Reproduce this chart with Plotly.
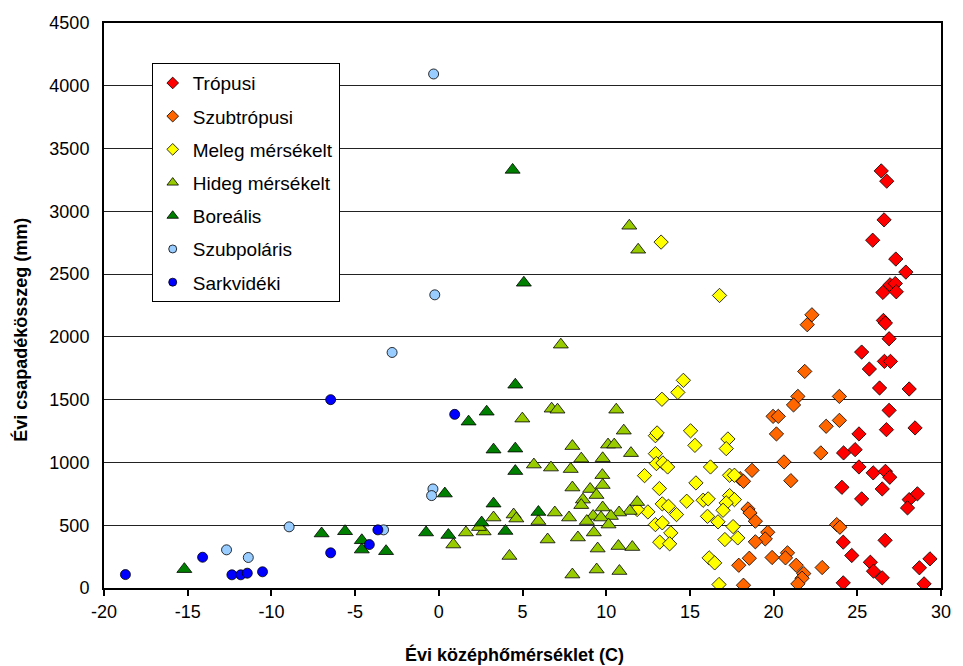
import plotly.graph_objects as go

# --- data: (annual mean temperature °C, annual precipitation mm) ---
tropusi_t = [26.43, 26.76, 26.6, 25.92, 27.3, 27.9, 26.96, 27.27, 26.53, 27.33, 26.56, 26.68, 26.9, 25.26,
             26.62, 26.98, 25.72, 26.33, 28.1, 26.9, 26.74, 28.45, 25.1, 24.18, 24.87, 25.1, 25.95, 26.68,
             26.94, 24.08, 26.49, 25.26, 28.1, 28.59, 28.0, 24.16, 26.66, 24.67, 25.78, 25.97, 26.49, 24.16,
             29.34, 28.71, 28.99]
tropusi_p = [3322, 3240, 2932, 2770, 2620, 2516, 2415, 2425, 2354, 2359, 2131, 2110, 1985, 1879,
             1805, 1805, 1744, 1593, 1585, 1415, 1261, 1275, 1227, 1076, 1102, 964, 917, 929,
             882, 802, 789, 710, 704, 750, 638, 365, 380, 259, 205, 134, 81, 41,
             232, 161, 33]

szubtr_t = [22.29, 22.01, 21.86, 21.45, 21.19, 23.93, 19.97, 20.28, 23.93, 23.14, 20.17, 22.82, 20.62,
            21.03, 18.71, 18.0, 18.2, 18.47, 18.59, 18.91, 23.77, 23.96, 19.65, 19.5, 18.91, 20.83,
            20.71, 21.35, 19.91, 18.55, 17.92, 21.8, 21.7, 21.45, 22.9, 18.2]
szubtr_p = [2176, 2097, 1725, 1526, 1458, 1526, 1367, 1367, 1335, 1288, 1227, 1076, 1004,
            855, 937, 871, 850, 630, 598, 532, 505, 484, 444, 391, 368, 280,
            240, 181, 243, 237, 181, 115, 78, 33, 163, 22]

meleg_t = [13.28, 16.77, 14.61, 14.28, 13.33, 15.04, 12.94, 13.04, 15.3, 17.27, 17.17, 12.94, 13.0,
           13.39, 13.67, 12.29, 16.23, 17.37, 17.66, 15.36, 13.18, 14.81, 15.79, 16.09, 17.37, 17.66,
           17.17, 16.98, 13.35, 13.72, 12.49, 11.85, 14.2, 16.05, 16.68, 17.58, 12.94, 13.35, 13.86,
           13.2, 13.79, 17.09, 17.86, 16.15, 16.48, 16.74]
meleg_p = [2755, 2330, 1654, 1558, 1503, 1252, 1213, 1235, 1136, 1187, 1110, 1070, 991,
           996, 964, 895, 964, 898, 898, 837, 792, 691, 699, 710, 736, 704,
           678, 619, 670, 651, 606, 625, 585, 571, 527, 489, 505, 519, 439,
           365, 352, 386, 399, 240, 200, 28]

hideg_t = [7.29, 11.38, 11.91, 4.99, 6.74, 7.09, 10.6, 11.05, 7.98, 10.11, 10.48, 8.51, 9.79, 11.48,
           5.68, 6.7, 7.88, 9.77, 9.79, 7.98, 9.04, 9.42, 8.61, 8.51, 9.79, 11.85, 11.41, 10.77, 10.28,
           9.22, 9.69, 5.95, 6.93, 4.47, 4.63, 3.27, 2.68, 2.4, 7.78, 8.84, 10.14, 0.87, 1.62, 6.5,
           8.31, 9.26, 4.22, 9.49, 10.73, 11.56, 7.98, 9.43, 10.79]
hideg_p = [1938, 2885, 2694, 1349, 1428, 1420, 1420, 1253, 1130, 1142, 1142, 1030, 1033, 1074,
           983, 959, 947, 899, 820, 800, 788, 740, 704, 660, 641, 684, 613, 601, 573,
           573, 561, 533, 601, 585, 553, 561, 450, 485, 561, 533, 505, 346, 442, 386,
           402, 442, 255, 314, 334, 326, 107, 147, 135]

boreal_t = [-15.2, -7.0, -5.6, -4.6, -4.6, -3.15, 4.41, 5.08, 4.57, 2.86, 1.78, 3.27, 4.57, 4.57,
            0.36, 3.27, 5.95, 2.56, 3.98, -0.76, 0.57]
boreal_p = [150, 434, 452, 380, 306, 293, 3330, 2431, 1619, 1404, 1325, 1102, 1110, 931,
            752, 672, 605, 521, 454, 442, 422]

szubpol_t = [-12.68, -11.38, -8.94, -2.79, -3.3, -0.31, -0.24, -0.35, -0.43]
szubpol_p = [304, 243, 487, 1876, 463, 4094, 2335, 789, 736]

sark_t = [-18.72, -14.11, -12.36, -11.83, -11.44, -10.53, -6.46, -6.46, -3.64, -4.15, 0.95]
sark_p = [107, 245, 105, 105, 118, 129, 1500, 280, 463, 346, 1383]

x_ticks = [-20, -15, -10, -5, 0, 5, 10, 15, 20, 25, 30]
y_ticks = [0, 500, 1000, 1500, 2000, 2500, 3000, 3500, 4000, 4500]

series = [
    ("Trópusi", tropusi_t, tropusi_p, "#FF0000", "diamond", 11, 9),
    ("Szubtrópusi", szubtr_t, szubtr_p, "#FF6600", "diamond", 11, 9),
    ("Meleg mérsékelt", meleg_t, meleg_p, "#FFFF00", "diamond", 11, 9),
    ("Hideg mérsékelt", hideg_t, hideg_p, "#99CC00", "triangle-up", 13, 10),
    ("Boreális", boreal_t, boreal_p, "#008000", "triangle-up", 13, 10),
    ("Szubpoláris", szubpol_t, szubpol_p, "#99CCFF", "circle", 10, 8),
    ("Sarkvidéki", sark_t, sark_p, "#0000FF", "circle", 10, 8),
]

fig = go.Figure()
for name, xs, ys, col, sym, sz, lsz in series:
    fig.add_trace(go.Scatter(
        x=xs, y=ys, mode="markers", name=name, legendgroup=name, showlegend=False,
        marker=dict(symbol=sym, size=sz, color=col, line=dict(color="#000000", width=0.8)),
    ))
    # legend-only entry with a smaller marker, like the original legend
    fig.add_trace(go.Scatter(
        x=[None], y=[None], mode="markers", name=name, legendgroup=name, showlegend=True,
        marker=dict(symbol=sym, size=lsz, color=col, line=dict(color="#000000", width=0.8)),
    ))

font_family = "Liberation Sans, Arial, sans-serif"
fig.update_layout(
    width=963, height=666,
    margin=dict(l=104, r=12, t=23, b=78),
    paper_bgcolor="white", plot_bgcolor="white",
    font=dict(family=font_family, size=18, color="black"),
    showlegend=True,
    legend=dict(
        x=0.057, y=0.929, xanchor="left", yanchor="top",
        bgcolor="white", bordercolor="black", borderwidth=1,
        font=dict(family=font_family, size=19, color="black"),
        traceorder="grouped", tracegroupgap=5.5,
        itemsizing="trace", itemwidth=30,
    ),
    xaxis=dict(
        range=[-20, 30], tickvals=x_ticks, ticktext=[str(v) for v in x_ticks],
        showgrid=False, zeroline=False,
        showline=True, linecolor="black", linewidth=2, mirror=True,
        ticks="outside", ticklen=6, tickwidth=1.5, tickcolor="black",
        tickfont=dict(family=font_family, size=18, color="black"),
    ),
    yaxis=dict(
        range=[0, 4500], tickvals=y_ticks, ticktext=[str(v) for v in y_ticks],
        showgrid=True, gridcolor="#222222", gridwidth=1.2, zeroline=False,
        showline=True, linecolor="black", linewidth=2, mirror=True,
        ticks="outside", ticklen=9, tickcolor="rgba(0,0,0,0)",
        tickfont=dict(family=font_family, size=18, color="black"),
    ),
    annotations=[
        dict(text="<b>Évi középhőmérséklet (C)</b>", xref="paper", yref="paper",
             x=0.491, y=-0.1176, xanchor="center", yanchor="middle", showarrow=False,
             font=dict(family=font_family, size=18, color="black")),
        dict(text="<b>Évi csapadékösszeg (mm)</b>", xref="paper", yref="paper",
             x=-0.0992, y=0.457, xanchor="center", yanchor="middle", showarrow=False,
             textangle=-90, font=dict(family=font_family, size=18, color="black")),
    ],
)

fig.write_html("out.html")
